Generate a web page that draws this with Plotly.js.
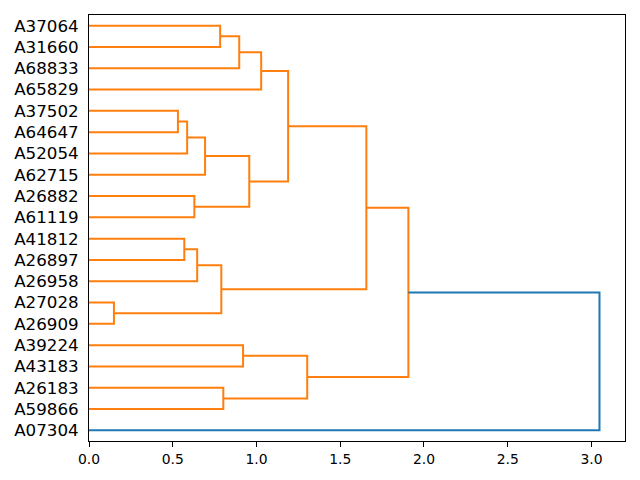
<!DOCTYPE html>
<html>
<head>
<meta charset="utf-8">
<script src="https://cdn.plot.ly/plotly-3.0.1.min.js"></script>
<style>html,body{margin:0;padding:0;background:#fff;}</style>
</head>
<body>
<div id="chart" style="width:640px;height:480px;"></div>
<script>
// Leaf labels, top to bottom
const leaves = ["A37064","A31660","A68833","A65829","A37502","A64647","A52054","A62715",
  "A26882","A61119","A41812","A26897","A26958","A27028","A26909","A39224","A43183",
  "A26183","A59866","A07304"];
// Linkage: cluster 20+k joins mergeA[k] and mergeB[k] at mergeDist[k]
const mergeA = [13, 4, 10, 21, 8, 22, 23, 0, 25, 17, 27, 15, 26, 30, 33, 31, 34, 36, 37];
const mergeB = [14, 5, 11, 6, 9, 12, 7, 1, 20, 18, 2, 16, 24, 3, 32, 29, 28, 35, 19];
const mergeDist = [0.149, 0.531, 0.569, 0.586, 0.629, 0.646, 0.693, 0.783, 0.790, 0.802,
  0.897, 0.920, 0.957, 1.028, 1.189, 1.303, 1.656, 1.907, 3.048];
const colorThreshold = 2.13;

const n = leaves.length;
const ypos = {}, height = {};
leaves.forEach((l, i) => { ypos[i] = 10 * (n - 1 - i) + 5; height[i] = 0; });

const orange = {x: [], y: []}, blue = {x: [], y: []};
mergeA.forEach((a, k) => {
  const b = mergeB[k], d = mergeDist[k], id = n + k;
  ypos[id] = (ypos[a] + ypos[b]) / 2;
  height[id] = d;
  const tgt = d < colorThreshold ? orange : blue;
  tgt.x.push(height[a], d, d, height[b], null);
  tgt.y.push(ypos[a], ypos[a], ypos[b], ypos[b], null);
});

const traces = [
  {x: orange.x, y: orange.y, mode: 'lines', type: 'scatter', line: {color: '#ff7f0e', width: 2}, hoverinfo: 'skip'},
  {x: blue.x, y: blue.y, mode: 'lines', type: 'scatter', line: {color: '#1f77b4', width: 2}, hoverinfo: 'skip'}
];

const xmax = mergeDist[mergeDist.length - 1] * 1.05;
const layout = {
  width: 640, height: 480,
  margin: {l: 89, r: 15, t: 15, b: 39, pad: 0},
  paper_bgcolor: '#fff', plot_bgcolor: '#fff',
  showlegend: false,
  font: {family: 'DejaVu Sans', color: '#000'},
  xaxis: {
    range: [0, xmax], showgrid: false, zeroline: false,
    showline: true, mirror: true, linecolor: '#000', linewidth: 1,
    ticks: 'outside', ticklen: 5, tickwidth: 1, tickcolor: '#000',
    tickvals: [0, 0.5, 1.0, 1.5, 2.0, 2.5, 3.0], tickformat: '.1f',
    tickfont: {size: 13.9, family: 'DejaVu Sans'}
  },
  yaxis: {
    range: [0, 10 * n], showgrid: false, zeroline: false,
    showline: true, mirror: true, linecolor: '#000', linewidth: 1,
    ticks: 'outside', ticklen: 6, tickcolor: 'rgba(0,0,0,0)',
    tickvals: leaves.map((l, i) => ypos[i]), ticktext: leaves,
    tickfont: {size: 16.7, family: 'DejaVu Sans'}
  }
};
Plotly.newPlot('chart', traces, layout, {staticPlot: true, displayModeBar: false});
</script>
</body>
</html>
